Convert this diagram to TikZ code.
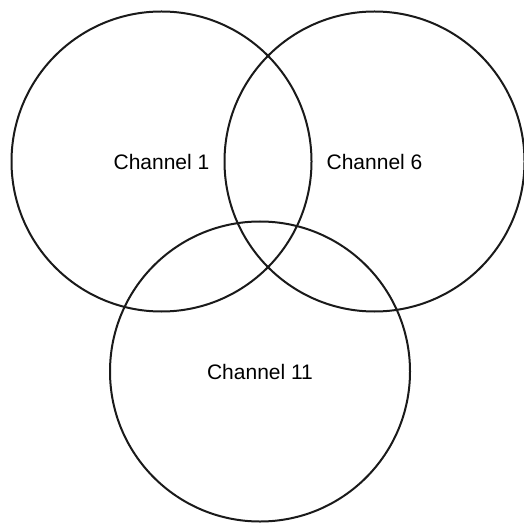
\documentclass[tikz,border=0pt]{standalone}
\usepackage{fontspec}
\setmainfont{Liberation Sans}
\usetikzlibrary{positioning}
\definecolor{Ink}{HTML}{1A1A1A}

\begin{document}
\begin{tikzpicture}[x=1pt, y=-1pt, every node/.style={font=\fontsize{21}{25}\selectfont},
  chan/.style={draw=Ink, circle, line width=2pt, minimum size=300pt, inner sep=0pt}]
\useasboundingbox (0,0) rectangle (523,526);
\node[chan] (ch1) at (161.5,161.5) {Channel 1};
\node[chan] (ch6) at (374.5,161.5) {Channel 6};
\node[chan] (ch11) at (260,371.5) {Channel 11};
\end{tikzpicture}
\end{document}
